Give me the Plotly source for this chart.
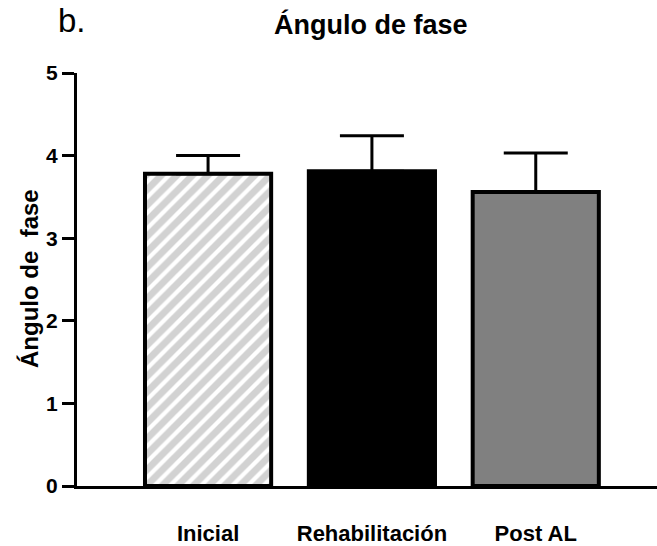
import plotly.graph_objects as go

categories = ["Inicial", "Rehabilitación", "Post AL"]
means = [3.78, 3.81, 3.56]
errors_up = [0.22, 0.43, 0.47]
fill_colors = ["white", "black", "#808080"]
patterns = ["/", "", ""]
y_ticks = [0, 1, 2, 3, 4, 5]

FONT = "Liberation Sans, Arial, sans-serif"

# plot area in pixels
L, R, T, B = 77, 657, 73, 486

fig = go.Figure()
for i, cat in enumerate(categories):
    marker = dict(color=fill_colors[i], line=dict(color="black", width=4))
    if patterns[i]:
        marker["pattern"] = dict(shape=patterns[i], fgcolor="#d2d2d2",
                                 bgcolor="white", fgopacity=1,
                                 size=11, solidity=0.62, fillmode="replace")
    fig.add_trace(go.Bar(
        x=[i], y=[means[i]], width=0.77, name=cat,
        marker=marker,
        error_y=dict(type="data", symmetric=False, array=[errors_up[i]],
                     arrayminus=[0], color="black", thickness=3, width=32),
        showlegend=False,
    ))

fig.update_layout(
    barmode="overlay",
    width=657, height=546,
    margin=dict(l=L, r=657 - R, t=T, b=546 - B),
    plot_bgcolor="white", paper_bgcolor="white",
    font=dict(family=FONT, color="black"),
    xaxis=dict(
        range=[-0.8, 2.74], tickmode="array",
        tickvals=list(range(len(categories))),
        ticktext=["<b>%s</b>" % c for c in categories],
        tickfont=dict(size=22, family=FONT, color="black"),
        ticks="", showline=True, linecolor="black", linewidth=3,
        showgrid=False, zeroline=False, ticklabelstandoff=26,
    ),
    yaxis=dict(
        range=[0, 5], tickmode="array", tickvals=y_ticks,
        ticktext=["<b>%d</b>" % v for v in y_ticks],
        tickfont=dict(size=21, family=FONT, color="black"),
        ticks="outside", ticklen=12, tickwidth=3, tickcolor="black",
        showline=True, linecolor="black", linewidth=3,
        showgrid=False, zeroline=False,
    ),
    annotations=[
        dict(text="<b>Ángulo de fase</b>", xref="paper", yref="paper",
             x=(371 - L) / (R - L), y=1 + (T - 24) / (B - T),
             showarrow=False, xanchor="center", yanchor="middle",
             font=dict(size=27, family=FONT, color="black")),
        dict(text="b.", xref="paper", yref="paper",
             x=(56 - L) / (R - L), y=1 + (T - 20) / (B - T),
             showarrow=False, xanchor="left", yanchor="middle",
             font=dict(size=33, family=FONT, color="black")),
        dict(text="<b>Ángulo de  fase</b>", xref="paper", yref="paper",
             x=(29 - L) / (R - L), y=(B - 279) / (B - T), textangle=-90,
             showarrow=False, xanchor="center", yanchor="middle",
             font=dict(size=24, family=FONT, color="black")),
    ],
)

fig.write_html("out.html")
